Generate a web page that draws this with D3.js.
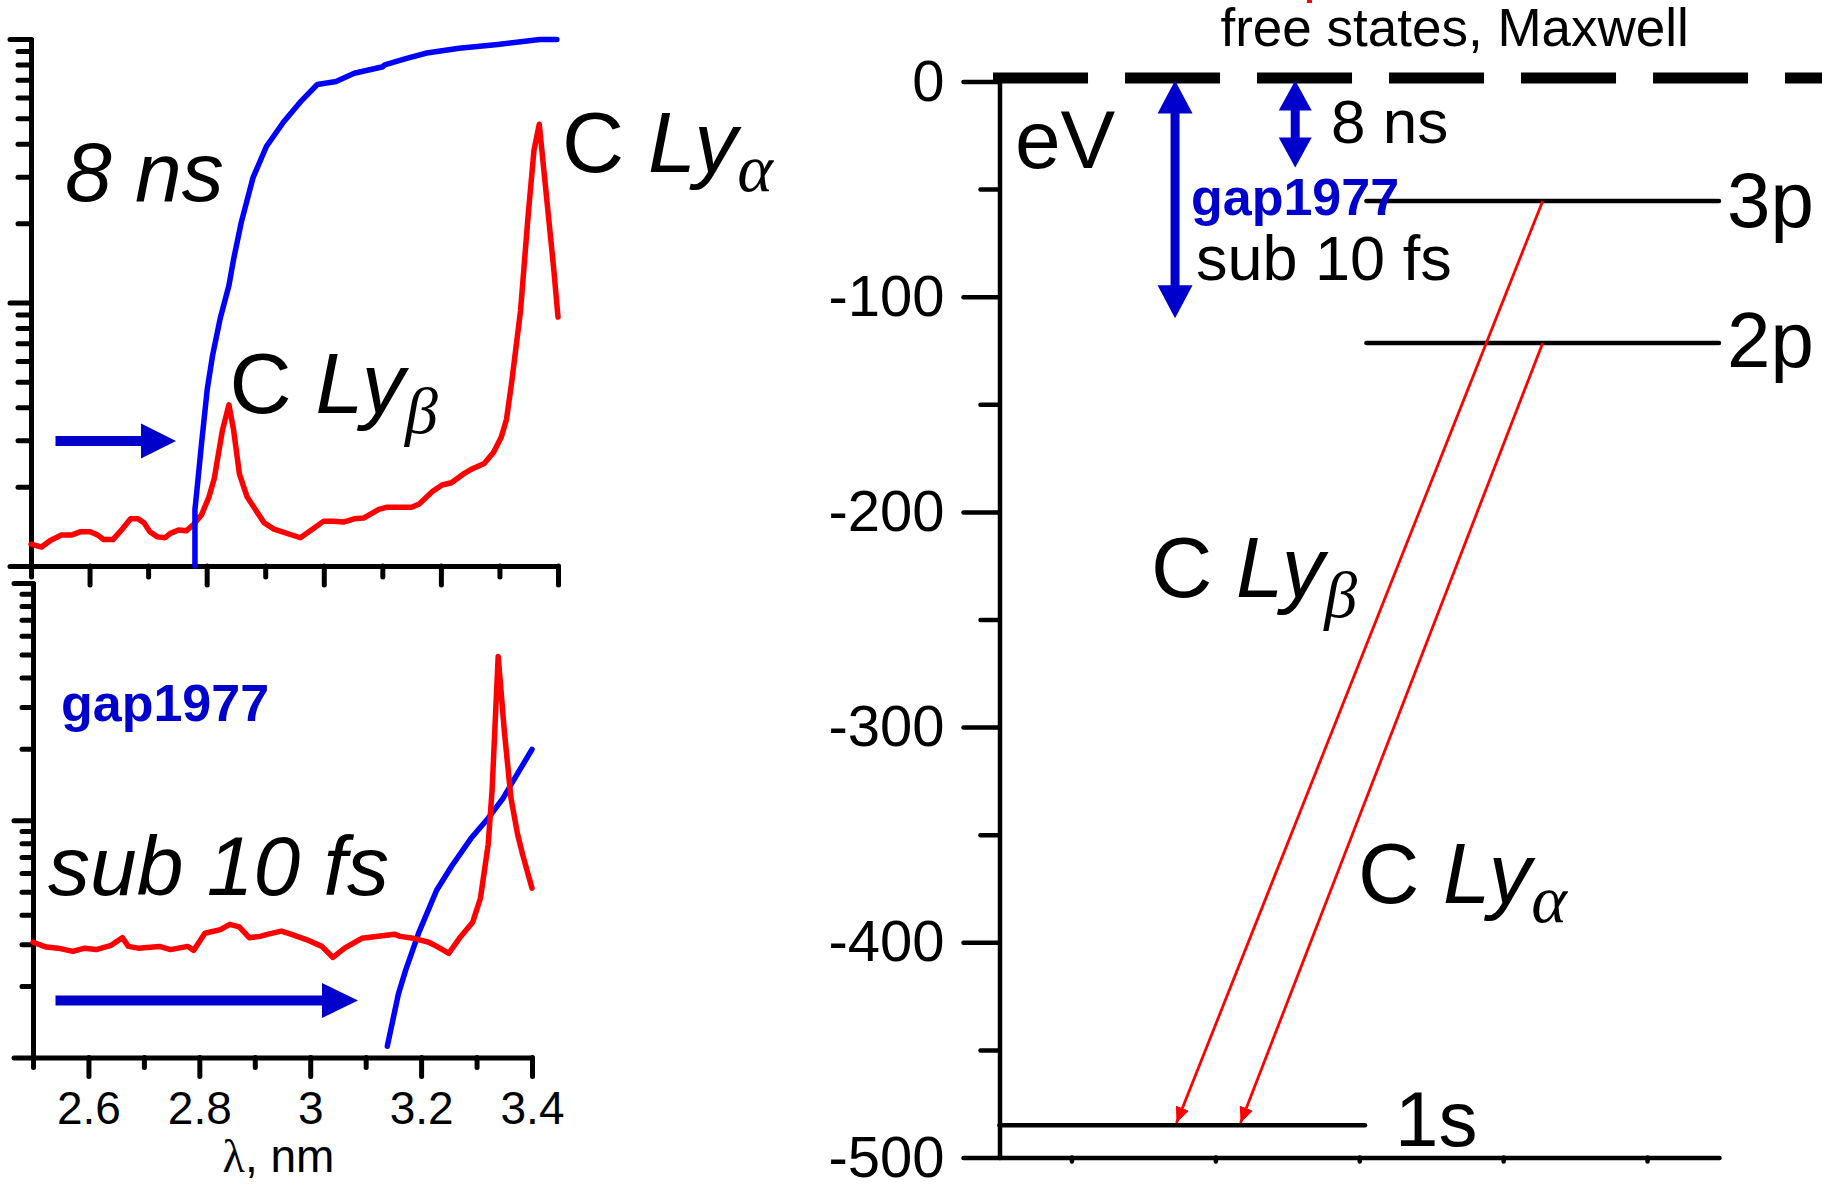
<!DOCTYPE html>
<html><head><meta charset="utf-8">
<script src="https://cdn.jsdelivr.net/npm/d3@7"></script>
<style>
body{margin:0;background:#fff;}
svg{display:block;background:#fff;}
text{font-family:"Liberation Sans", Arial, sans-serif; white-space:pre;}
</style></head><body>
<svg id="c" width="1822" height="1185"></svg>
<script>
// ---------- data ----------
const topRedLambda = [2.500,2.518,2.533,2.552,2.569,2.585,2.601,2.614,2.624,2.640,2.657,2.670,2.683,2.693,2.703,2.716,2.729,2.738,2.752,2.765,2.778,2.791,2.804,2.813,2.827,2.838,2.846,2.856,2.869,2.898,2.915,2.960,2.977,3.000,3.016,3.035,3.052,3.068,3.094,3.107,3.150,3.163,3.186,3.202,3.218,3.238,3.254,3.274,3.290,3.303,3.312,3.321,3.336,3.349,3.359,3.368,3.393,3.400];
const topRedInt = [1.21,1.18,1.25,1.31,1.31,1.35,1.35,1.31,1.26,1.26,1.39,1.51,1.51,1.46,1.35,1.29,1.28,1.33,1.37,1.36,1.44,1.56,1.83,2.15,3.28,4.09,3.28,2.23,1.83,1.46,1.38,1.28,1.36,1.48,1.48,1.47,1.51,1.52,1.64,1.67,1.67,1.72,1.92,2.03,2.07,2.23,2.34,2.45,2.70,3.08,3.6,5.0,9.3,21.4,37.8,47.5,13.2,8.8];
const topBlueLambda = [2.780,2.780,2.781,2.791,2.801,2.810,2.823,2.838,2.846,2.859,2.879,2.902,2.931,2.960,2.989,3.021,3.052,3.101,3.104,3.140,3.176,3.231,3.297,3.369,3.398];
const topBlueInt = [1,1.64,1.72,2.88,4.69,6.28,8.68,11.6,14.6,20.1,29.7,39.1,48.3,57.7,67.2,69.0,74.1,78.5,79.8,84.3,88.5,92.3,95.4,99.5,99.5];
const botRedLambda = [2.500,2.524,2.545,2.572,2.593,2.614,2.641,2.661,2.672,2.690,2.728,2.748,2.779,2.790,2.810,2.838,2.855,2.872,2.890,2.910,2.924,2.948,2.965,2.993,3.021,3.041,3.062,3.093,3.152,3.162,3.186,3.214,3.234,3.250,3.269,3.293,3.307,3.321,3.328,3.339,3.350,3.362,3.374,3.383,3.400];
const botRedInt = [3.06,2.92,2.89,2.80,2.89,2.85,2.97,3.20,2.94,2.89,2.94,2.85,2.94,2.83,3.34,3.46,3.64,3.55,3.20,3.24,3.31,3.41,3.31,3.14,2.94,2.64,2.89,3.18,3.31,3.24,3.18,3.06,2.89,2.75,3.18,3.72,4.69,7.92,13.4,49.0,23.9,12.4,8.73,7.18,5.17];
const botBlueLambda = [3.139,3.159,3.172,3.196,3.228,3.255,3.290,3.321,3.348,3.365,3.400];
const botBlueInt = [1.115,1.85,2.33,3.37,5.07,6.40,8.39,10.2,12.4,14.5,19.9];

const lambdaTicksMajor = [2.6,2.8,3,3.2,3.4];
const lambdaTicksMinor = [2.5,2.7,2.9,3.1,3.3];
const intTicksMajor = [1,10,100];
const intTicksMinor = [2,3,4,5,6,7,8,9,20,30,40,50,60,70,80,90];

const levelNames = ["3p","2p","1s"];
const levelEnergies = [-55.5,-121.5,-485];
const levelStart = [5.1,5.1,0];
const levelEnd = [10,10,5.08];
const energyTicksMajor = [0,-100,-200,-300,-400,-500];
const energyTicksMinor = [-50,-150,-250,-350,-450];
const posTicks = [1,3,5,7,9];
const transitionUpperE = [-55.5,-121.5];
const transitionLowerE = [-484,-484];
const transitionUpperX = [7.55,7.55];
const transitionLowerX = [2.46,3.35];
const gapArrowX = [2.44,4.11];
const gapArrowBottomE = [-110,-40];

// ---------- setup ----------
const svg = d3.select("#c");
const RED = "#ff0000", BLUE = "#0000ff", DBLUE = "#0000cc";
const FONT = '"Liberation Sans", Arial, sans-serif';
const SERIF = '"Liberation Serif", "Times New Roman", serif';
const CURVE_W = 5.5;

svg.append("defs").append("marker")
  .attr("id","ah").attr("viewBox","0 0 16 14").attr("refX",16).attr("refY",7)
  .attr("markerWidth",16).attr("markerHeight",14).attr("markerUnits","userSpaceOnUse")
  .attr("orient","auto")
  .append("path").attr("d","M0,0 L16,7 L0,14 Z").attr("fill",RED);

function styleAxis(g, sw, keepText){
  g.attr("font-family", FONT);
  g.select(".domain").attr("stroke-width", sw).attr("stroke-linecap","round");
  g.selectAll(".tick line").attr("stroke-width", sw).attr("stroke-linecap","round");
  if(!keepText) g.selectAll(".tick text").remove();
}

// ---------- top-left panel ----------
const xA = d3.scaleLinear().domain([2.5,3.4]).range([31,558]);
const yA = d3.scaleLog().domain([1,100]).range([566,39]);
const lineA = d3.line().x(d=>xA(d[0])).y(d=>yA(d[1]));

const gA = svg.append("g");
gA.append("g").attr("transform",`translate(0,${yA(1)})`)
  .call(d3.axisBottom(xA).tickValues(lambdaTicksMinor).tickSize(11).tickSizeOuter(0))
  .call(g=>{styleAxis(g,5,false); g.select(".domain").remove();});
gA.append("g").attr("transform",`translate(0,${yA(1)})`)
  .call(d3.axisBottom(xA).tickValues(lambdaTicksMajor).tickSize(19).tickSizeOuter(0))
  .call(g=>styleAxis(g,5,false));
gA.append("g").attr("transform",`translate(${xA(2.5)},0)`)
  .call(d3.axisLeft(yA).tickValues(intTicksMinor).tickSize(13).tickSizeOuter(0))
  .call(g=>{styleAxis(g,5,false); g.select(".domain").remove();});
gA.append("g").attr("transform",`translate(${xA(2.5)},0)`)
  .call(d3.axisLeft(yA).tickValues(intTicksMajor).tickSize(21).tickSizeOuter(0))
  .call(g=>styleAxis(g,5,false));

gA.append("path").datum(d3.zip(topRedLambda, topRedInt)).attr("d", lineA)
  .attr("fill","none").attr("stroke",RED).attr("stroke-width",CURVE_W)
  .attr("stroke-linejoin","round").attr("stroke-linecap","round");
gA.append("path").datum(d3.zip(topBlueLambda, topBlueInt)).attr("d", lineA)
  .attr("fill","none").attr("stroke",BLUE).attr("stroke-width",CURVE_W)
  .attr("stroke-linejoin","round").attr("stroke-linecap","round");

function hArrow(g, x0, x1, y, shaft, headLen, headHalf){
  g.append("line").attr("x1",x0).attr("x2",x1-headLen+1).attr("y1",y).attr("y2",y)
    .attr("stroke",DBLUE).attr("stroke-width",shaft);
  g.append("path").attr("d",`M${x1-headLen},${y-headHalf} L${x1},${y} L${x1-headLen},${y+headHalf} Z`)
    .attr("fill",DBLUE);
}
hArrow(gA, 55.5, 176, 441, 10, 35, 17.5);

function lyLabel(g, x, y, size, greek, subSize, subDy){
  const t = g.append("text").attr("x",x).attr("y",y).attr("font-size",size).attr("font-family",FONT);
  t.append("tspan").text("C ");
  t.append("tspan").attr("font-style","italic").text("Ly");
  t.append("tspan").attr("font-family",SERIF).attr("font-style","italic")
    .attr("font-size",subSize).attr("dy",subDy).text(greek);
  return t;
}
gA.append("text").attr("x",65).attr("y",201).attr("font-size",84).attr("font-style","italic").text("8 ns");
lyLabel(gA, 229.6, 412.5, 86, "β", 66, 20);
lyLabel(gA, 562, 172, 86, "α", 68, 19);

// ---------- bottom-left panel ----------
const xB = d3.scaleLinear().domain([2.5,3.4]).range([33,532]);
const yB = d3.scaleLog().domain([1,100]).range([1057.5,583]);
const lineB = d3.line().x(d=>xB(d[0])).y(d=>yB(d[1]));
const gB = svg.append("g");
gB.append("g").attr("transform",`translate(0,${yB(1)})`)
  .call(d3.axisBottom(xB).tickValues(lambdaTicksMinor).tickSize(10).tickSizeOuter(0))
  .call(g=>{styleAxis(g,5,false); g.select(".domain").remove();});
gB.append("g").attr("transform",`translate(0,${yB(1)})`)
  .call(d3.axisBottom(xB).tickValues(lambdaTicksMajor).tickSize(19).tickSizeOuter(0).tickPadding(15)
    .tickFormat(d=>d3.format("~g")(d)))
  .call(g=>{styleAxis(g,5,true); g.selectAll(".tick text").attr("font-size",46).attr("fill","#000");});
gB.append("g").attr("transform",`translate(${xB(2.5)},0)`)
  .call(d3.axisLeft(yB).tickValues(intTicksMinor).tickSize(11).tickSizeOuter(0))
  .call(g=>{styleAxis(g,5,false); g.select(".domain").remove();});
gB.append("g").attr("transform",`translate(${xB(2.5)},0)`)
  .call(d3.axisLeft(yB).tickValues(intTicksMajor).tickSize(19).tickSizeOuter(0))
  .call(g=>styleAxis(g,5,false));

gB.append("path").datum(d3.zip(botBlueLambda, botBlueInt)).attr("d", lineB)
  .attr("fill","none").attr("stroke",BLUE).attr("stroke-width",CURVE_W)
  .attr("stroke-linejoin","round").attr("stroke-linecap","round");
gB.append("path").datum(d3.zip(botRedLambda, botRedInt)).attr("d", lineB)
  .attr("fill","none").attr("stroke",RED).attr("stroke-width",CURVE_W)
  .attr("stroke-linejoin","round").attr("stroke-linecap","round");

hArrow(gB, 55.5, 358, 1000.5, 10, 36, 17.5);
gB.append("text").attr("x",61).attr("y",721).attr("font-size",52).attr("font-weight","bold")
  .attr("fill",DBLUE).text("gap1977");
gB.append("text").attr("x",48).attr("y",895).attr("font-size",84).attr("font-style","italic").text("sub 10 fs");
const lt = gB.append("text").attr("x",(xB(2.5)+xB(3.4))/2-4).attr("y",1172).attr("font-size",46).attr("text-anchor","middle");
lt.append("tspan").attr("font-family",SERIF).text("λ");
lt.append("tspan").text(", nm");

// ---------- right panel ----------
const xR = d3.scaleLinear().domain([0,10]).range([999.5,1719]);
const yR = d3.scaleLinear().domain([-500,0]).range([1157.5,81.5]);
const gR = svg.append("g");

gR.append("g").attr("transform",`translate(${xR(0)},0)`)
  .call(d3.axisLeft(yR).tickValues(energyTicksMinor).tickSize(19).tickSizeOuter(0))
  .call(g=>{styleAxis(g,4.5,false); g.select(".domain").remove();});
gR.append("g").attr("transform",`translate(${xR(0)},0)`)
  .call(d3.axisLeft(yR).tickValues(energyTicksMajor).tickSize(36).tickSizeOuter(0).tickPadding(19)
    .tickFormat(d=>String(d)))
  .call(g=>{styleAxis(g,4.5,true); g.selectAll(".tick text").attr("font-size",58).attr("fill","#000");});
gR.append("g").attr("transform",`translate(0,${yR(-500)})`)
  .call(d3.axisBottom(xR).tickValues(posTicks).tickSize(4).tickSizeOuter(0))
  .call(g=>styleAxis(g,4.5,false));

// dashed continuum edge
gR.append("line").attr("x1",xR(-0.09)).attr("x2",1822).attr("y1",yR(0)-3.5).attr("y2",yR(0)-3.5)
  .attr("stroke","#000").attr("stroke-width",11).attr("stroke-dasharray","95,37");

// levels
levelNames.forEach((n,i)=>{
  gR.append("line").attr("x1",xR(levelStart[i])).attr("x2",xR(levelEnd[i]))
    .attr("y1",yR(levelEnergies[i])).attr("y2",yR(levelEnergies[i]))
    .attr("stroke","#000").attr("stroke-width",4.5).attr("stroke-linecap","round");
  gR.append("text").attr("x",xR(levelEnd[i])+(i<2?8:30)).attr("y",yR(levelEnergies[i])+(i===0?26:(i===1?24:21)))
    .attr("font-size",78).text(n);
});

// transitions
transitionUpperE.forEach((e,i)=>{
  gR.append("line").attr("x1",xR(transitionUpperX[i])).attr("y1",yR(e))
    .attr("x2",xR(transitionLowerX[i])).attr("y2",yR(transitionLowerE[i]))
    .attr("stroke",RED).attr("stroke-width",2.8).attr("marker-end","url(#ah)");
});

// blue double arrows
function vDoubleArrow(g, x, yTop, yBot, shaft, headLen, headHalf){
  g.append("line").attr("x1",x).attr("x2",x).attr("y1",yTop+headLen-1).attr("y2",yBot-headLen+1)
    .attr("stroke",DBLUE).attr("stroke-width",shaft);
  g.append("path").attr("d",`M${x-headHalf},${yTop+headLen} L${x},${yTop} L${x+headHalf},${yTop+headLen} Z`).attr("fill",DBLUE);
  g.append("path").attr("d",`M${x-headHalf},${yBot-headLen} L${x},${yBot} L${x+headHalf},${yBot-headLen} Z`).attr("fill",DBLUE);
}
gapArrowX.forEach((x,i)=>{
  vDoubleArrow(gR, xR(x), yR(0)-1, yR(gapArrowBottomE[i]), 9, i===0?33:30, i===0?17.5:16.5);
});

// texts
gR.append("text").attr("x",1220.5).attr("y",46).attr("font-size",53).text("free states, Maxwell");
gR.append("line").attr("x1",1309.5).attr("x2",1309.5).attr("y1",0).attr("y2",3).attr("stroke",RED).attr("stroke-width",5);
gR.append("text").attr("x",1015).attr("y",168).attr("font-size",82).text("eV");
gR.append("text").attr("x",1331).attr("y",143).attr("font-size",62).text("8 ns");
gR.append("text").attr("x",1191).attr("y",215).attr("font-size",52).attr("font-weight","bold").attr("fill",DBLUE).text("gap1977");
gR.append("text").attr("x",1196).attr("y",280).attr("font-size",63).text("sub 10 fs");
lyLabel(gR, 1151, 597, 85, "β", 66, 20);
lyLabel(gR, 1358, 903, 85, "α", 68, 19);
</script>
</body></html>
